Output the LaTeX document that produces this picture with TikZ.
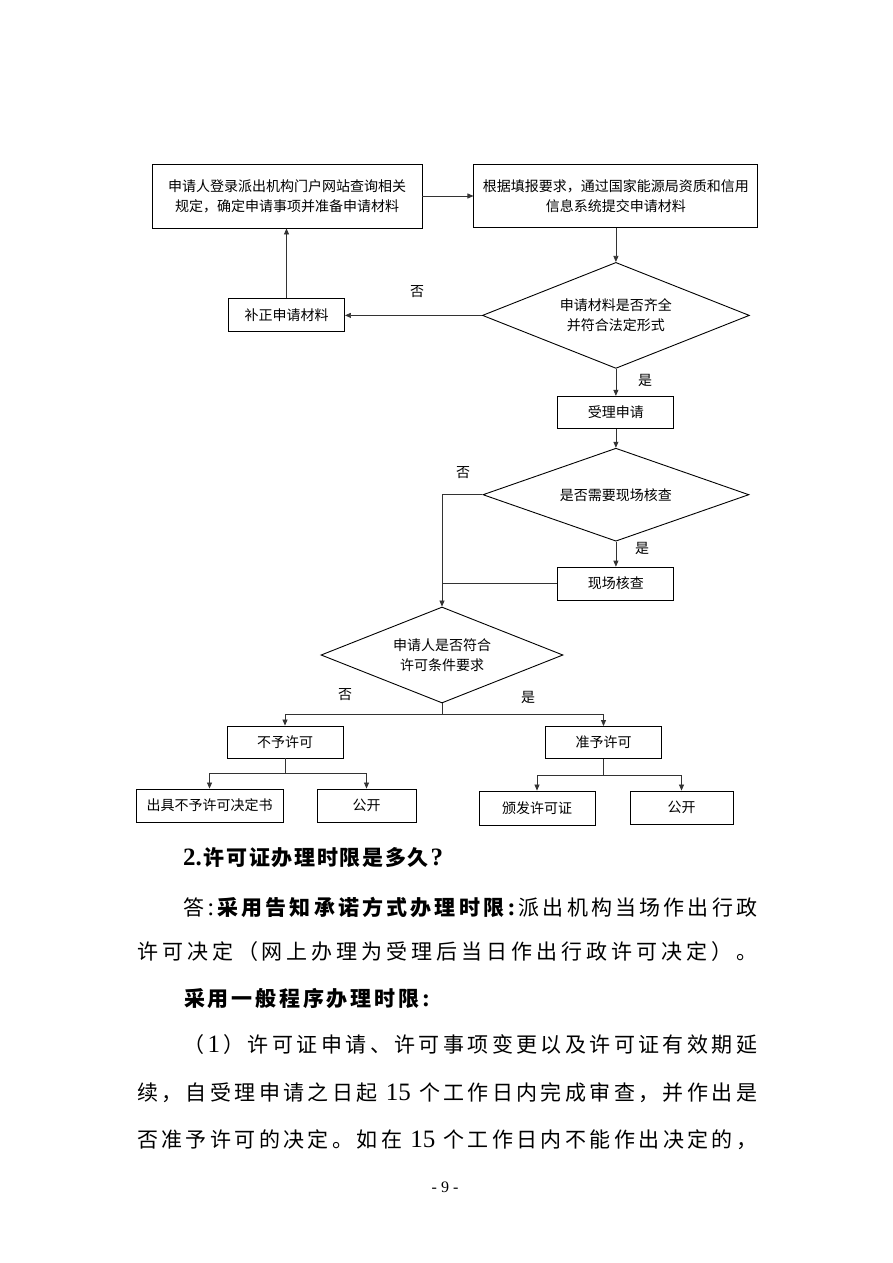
\documentclass[tikz,border=0pt]{standalone}
\usepackage{fontspec}
\setmainfont{Noto Sans CJK SC}
\newfontfamily\latinserif{Liberation Serif}
\usetikzlibrary{shapes,arrows.meta,positioning}
% stretchable glue between CJK characters of the body lines
\count255="3000
\loop \XeTeXcharclass\count255=77 \advance\count255 1 \ifnum\count255<"3040 \repeat
\count255="4E00
\loop \XeTeXcharclass\count255=77 \advance\count255 1 \ifnum\count255<"A000 \repeat
\count255="FF00
\loop \XeTeXcharclass\count255=77 \advance\count255 1 \ifnum\count255<"FFF0 \repeat
\XeTeXinterchartoks 77 77 = {\hfil}
\newcommand\boxfont{\fontsize{14pt}{20pt}\selectfont}
\newcommand\bodyfont{\fontsize{21pt}{24pt}\selectfont\XeTeXinterchartokenstate=1 }
\newcommand\spreadline[2]{\makebox[#1][s]{#2}}
\newcommand\latinnum[1]{{\latinserif\fontsize{25pt}{24pt}\selectfont #1}}

\begin{document}
\begin{tikzpicture}[x=1pt, y=-1pt,
    flow box/.style={rectangle, draw=black, line width=0.9pt, minimum width=116pt, minimum height=33pt, inner sep=2pt, align=center, font=\boxfont},
    flow test/.style={diamond, draw=black, line width=0.9pt, aspect=2.5, inner sep=0pt, align=center, font=\boxfont},
    flow arrow/.style={-{Triangle[length=6pt,width=5pt]}, draw=black!80, line width=0.7pt},
    flow line/.style={draw=black!80, line width=0.7pt},
    flow label/.style={font=\boxfont, inner sep=0pt},
    body line/.style={anchor=west, inner sep=0pt, font=\bodyfont}]

    \useasboundingbox (0,0) rectangle (893,1263);
    \fill[white] (0,0) rectangle (893,1263);

    % flow chart
    \node [flow box, minimum width=270pt, minimum height=64pt] (apply) at (287,196) {申请人登录派出机构门户网站查询相关\\规定，确定申请事项并准备申请材料};
    \node [flow box, minimum width=284pt, minimum height=63pt, right=51pt of apply] (submit) {根据填报要求，通过国家能源局资质和信用\\信息系统提交申请材料};
    \node [flow test, minimum width=267pt, minimum height=106pt, below=34pt of submit] (check) {申请材料是否齐全\\并符合法定形式};
    \node [flow box, left=137pt of check] (fix) {补正申请材料};
    \node [flow box, minimum height=32pt, below=27pt of check] (accept) {受理申请};
    \node [flow test, minimum width=266pt, minimum height=93pt, below=19pt of accept] (onsiteq) {是否需要现场核查};
    \node [flow box, below=25pt of onsiteq] (onsite) {现场核查};
    \node [flow test, minimum width=242pt, minimum height=96pt] (meet) at (442,655) {申请人是否符合\\许可条件要求};

    \node [flow box, minimum height=32pt] (deny) at (285,742) {不予许可};
    \node [flow box, minimum height=32pt] (grant) at (603.5,742.5) {准予许可};
    \node [flow box, minimum width=147pt] (notice) at (209.5,805.5) {出具不予许可决定书};
    \node [flow box, minimum width=99pt] (publicA) at (366.5,805.5) {公开};
    \node [flow box, minimum height=34pt] (issue) at (537,808) {颁发许可证};
    \node [flow box, minimum width=103pt] (publicB) at (681.5,807.5) {公开};

    \node [flow label] (no1) at (417,292) {否};
    \node [flow label] (yes1) at (645,380) {是};
    \node [flow label] (no2) at (463,473) {否};
    \node [flow label] (yes2) at (642,548) {是};
    \node [flow label] (no3) at (345,695) {否};
    \node [flow label] (yes3) at (528,697) {是};

    \draw [flow arrow] (apply) -- (submit);
    \draw [flow arrow] (submit) -- (check);
    \draw [flow arrow] (check.west) -- (fix.east);
    \draw [flow arrow] (fix.north) -- (fix.north |- apply.south);
    \draw [flow arrow] (check) -- (accept);
    \draw [flow arrow] (accept) -- (onsiteq);
    \draw [flow arrow] (onsiteq) -- (onsite);
    \draw [flow line] (onsite.west) -- (onsite.west -| meet.north);
    \draw [flow arrow] (onsiteq.west) -| (meet.north);

    \coordinate [below=11pt of meet.south] (split);
    \draw [flow line] (meet.south) -- (split);
    \draw [flow arrow] (split) -| (deny.north);
    \draw [flow arrow] (split) -| (grant.north);

    \coordinate [below=15pt of deny.south] (splitA);
    \draw [flow line] (deny) -- (splitA);
    \draw [flow arrow] (splitA) -| (notice.north);
    \draw [flow arrow] (splitA) -| (publicA.north);

    \coordinate [below=16pt of grant.south] (splitB);
    \draw [flow line] (grant) -- (splitB);
    \draw [flow arrow] (splitB) -| (issue.north);
    \draw [flow arrow] (splitB) -| (publicB.north);

    % body text
    \node [body line] (title) at (183,858) {\bfseries\spreadline{260pt}{\latinnum{2.}\hfil 许可证办理时限是多久\hfil\latinnum{?}}};
    \node [body line] (answer) at (183,907) {\spreadline{574pt}{答\hfil\latinnum{:}\hfil{\bfseries 采用告知承诺方式办理时限}\hfil{\bfseries\latinnum{:}}\hfil 派出机构当场作出行政}};
    \node [body line] (answerb) at (137,952) {\spreadline{620pt}{许可决定（网上办理为受理后当日作出行政许可决定）。}};
    \node [body line] (general) at (184,998) {\bfseries\spreadline{246pt}{采用一般程序办理时限\hfil\latinnum{:}}};
    \node [body line] (itema) at (183,1045) {\spreadline{574pt}{（\hfil\latinnum{1}\hfil）许可证申请、许可事项变更以及许可证有效期延}};
    \node [body line] (itemb) at (137,1093) {\spreadline{620pt}{续，自受理申请之日起\hfil\ \latinnum{15}\ \hfil 个工作日内完成审查，并作出是}};
    \node [body line] (itemc) at (137,1140) {\spreadline{620pt}{否准予许可的决定。如在\hfil\ \latinnum{15}\ \hfil 个工作日内不能作出决定的，}};
    \node [font=\latinserif\fontsize{16pt}{18pt}\selectfont, inner sep=0pt] (page) at (445,1187) {- 9 -};

\end{tikzpicture}
\end{document}
